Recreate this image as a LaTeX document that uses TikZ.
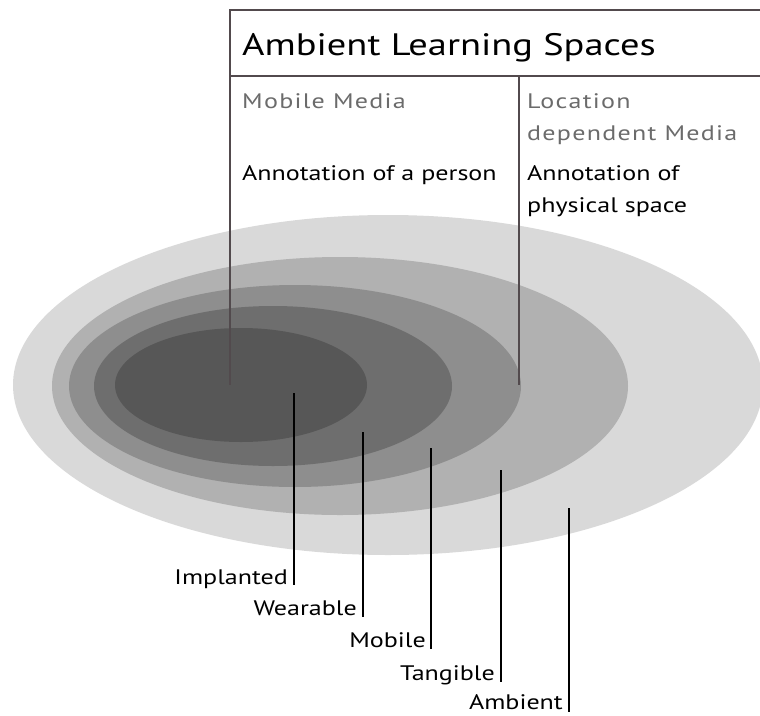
\documentclass[tikz,border=0pt]{standalone}
\usepackage{fontspec}
\setmainfont{PT Sans}[FakeStretch=1.24]
\newfontfamily\subfont{PT Sans}[FakeStretch=1.24, LetterSpace=6]
\usetikzlibrary{shapes.geometric}
\definecolor{gA}{HTML}{D9D9D9}
\definecolor{gB}{HTML}{B1B1B1}
\definecolor{gC}{HTML}{8E8E8E}
\definecolor{gD}{HTML}{6E6E6E}
\definecolor{gE}{HTML}{575757}
\definecolor{hdr}{HTML}{524A4D}
\definecolor{subg}{HTML}{6B6B6B}
\begin{document}
\begin{tikzpicture}[x=1pt,y=-1pt,
  zone/.style={ellipse, draw=none, inner sep=0pt, outer sep=0pt},
  hdrline/.style={draw=hdr, line width=2pt},
  lbline/.style={draw=black, line width=2.4pt},
  title/.style={inner sep=0pt, anchor=base west, font=\fontsize{31}{37}\selectfont},
  sub/.style={inner sep=0pt, anchor=base west, text=subg, font=\subfont\fontsize{21}{25}\selectfont},
  ann/.style={inner sep=0pt, anchor=base west, text=black, font=\fontsize{21}{25}\selectfont},
  lab/.style={inner sep=0pt, anchor=base east, text=black, font=\fontsize{21}{25}\selectfont}]
\useasboundingbox (0,0) rectangle (760,715);
% zones
\node[zone, fill=gA, minimum width=750, minimum height=340] (amb) at (388,385) {};
\node[zone, fill=gB, minimum width=576, minimum height=258] (tan) at (340,386) {};
\node[zone, fill=gC, minimum width=452, minimum height=202] (mob) at (295,386) {};
\node[zone, fill=gD, minimum width=358, minimum height=160] (wea) at (273,386) {};
\node[zone, fill=gE, minimum width=252, minimum height=114] (imp) at (241,385) {};
% header frame
\coordinate (hTR) at (760,10);
\coordinate (hTL) at (230,10);
\coordinate (hL) at (230,385);
\coordinate (dL) at (230,76);
\coordinate (dR) at (760,76);
\coordinate (mT) at (519,76);
\coordinate (mB) at (519,385);
\draw[hdrline] (hTR) -- (hTL) -- (hL);
\draw[hdrline] (dL) -- (dR);
\draw[hdrline] (mT) -- (mB);
% header texts
\node[title] (ttl) at (242,55) {Ambient Learning Spaces};
\node[sub] (mm) at (242,108) {Mobile Media};
\node[sub] (loc1) at (527,108) {Location};
\node[sub] (loc2) at (527,140) {dependent Media};
\node[ann] (aop) at (242,180) {Annotation of a person};
\node[ann] (aof1) at (527,180) {Annotation of};
\node[ann] (aof2) at (527,212) {physical space};
% labels
\node[lab] (limp) at (288,584) {Implanted};
\node[lab] (lwea) at (357,615) {Wearable};
\node[lab] (lmob) at (426,647) {Mobile};
\node[lab] (ltan) at (495,680) {Tangible};
\node[lab] (lamb) at (563,709) {Ambient};
\coordinate (pImpT) at (294,393);  \coordinate (pImpB) at (294,585);
\coordinate (pWeaT) at (363,432);  \coordinate (pWeaB) at (363,617);
\coordinate (pMobT) at (431,448);  \coordinate (pMobB) at (431,649);
\coordinate (pTanT) at (501,470);  \coordinate (pTanB) at (501,682);
\coordinate (pAmbT) at (569,508);  \coordinate (pAmbB) at (569,712);
\draw[lbline] (pImpT) -- (pImpB);
\draw[lbline] (pWeaT) -- (pWeaB);
\draw[lbline] (pMobT) -- (pMobB);
\draw[lbline] (pTanT) -- (pTanB);
\draw[lbline] (pAmbT) -- (pAmbB);
\end{tikzpicture}
\end{document}
